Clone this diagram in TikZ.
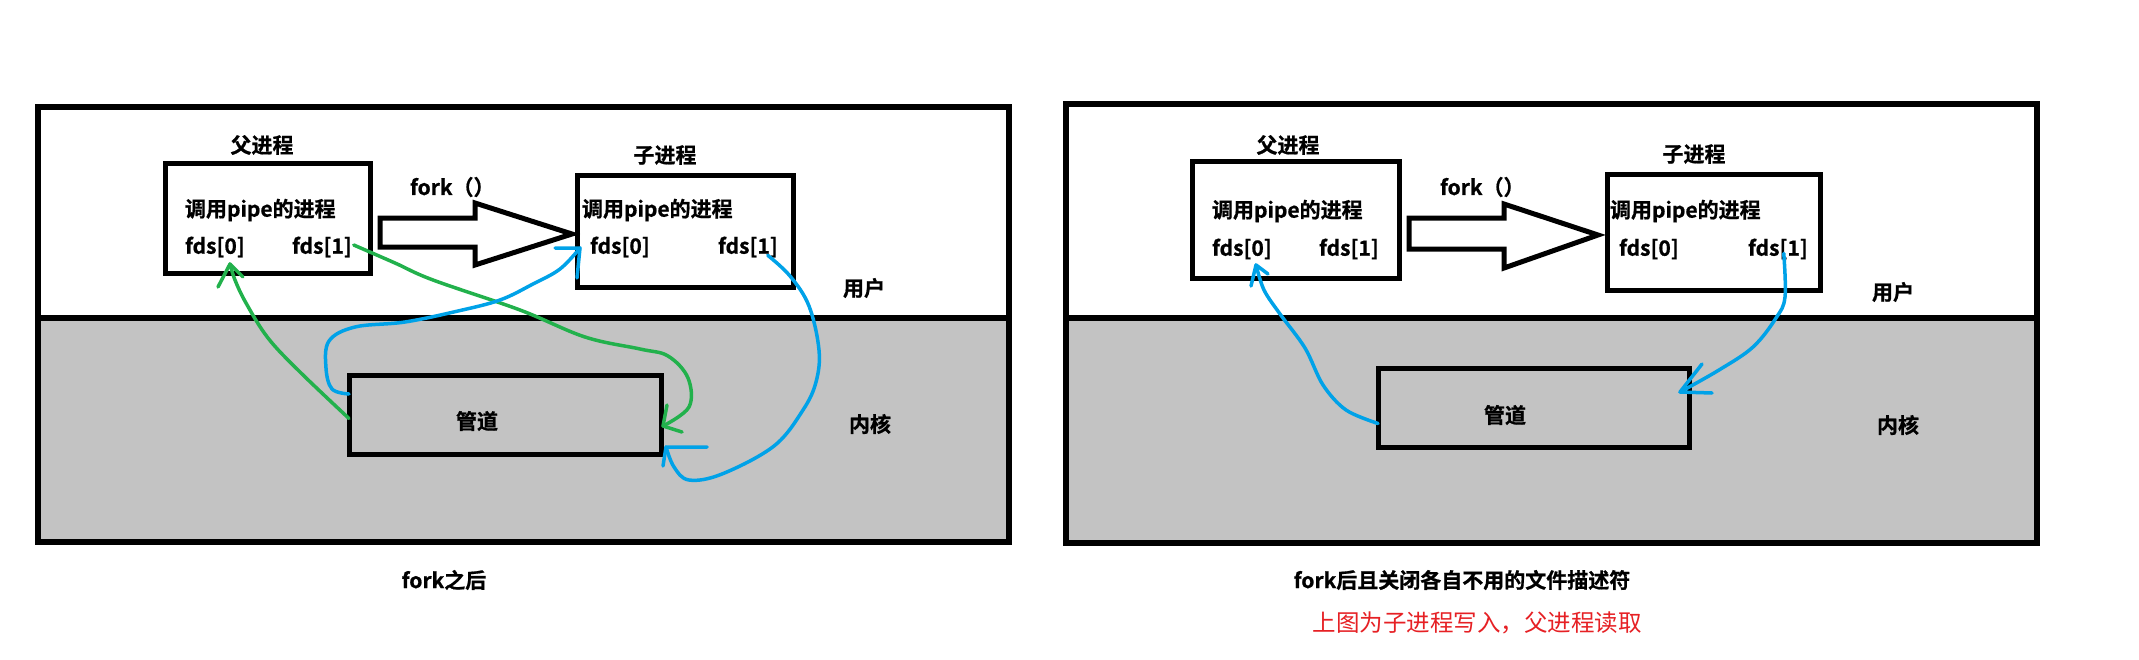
\documentclass[tikz,border=0pt]{standalone}
\usepackage{fontspec}
\setmainfont{Noto Sans CJK SC}[BoldFont={Noto Sans CJK SC Bold}, BoldFeatures={FakeBold=0.8}]
\usetikzlibrary{calc}
\definecolor{pgreen}{RGB}{34,177,76}
\definecolor{pblue}{RGB}{0,162,232}
\definecolor{kgray}{RGB}{195,195,195}
\definecolor{capred}{RGB}{230,32,36}
\begin{document}
\begin{tikzpicture}[x=1pt,y=-1pt,
  proc/.style={draw=black, line width=5pt, fill=white, inner sep=0pt, outer sep=0pt},
  pipebox/.style={draw=black, line width=5pt, inner sep=0pt, outer sep=0pt},
  txt/.style={font=\fontsize{21}{25}\selectfont\bfseries, inner sep=0pt, outer sep=0pt},
  captxt/.style={font=\fontsize{21}{25}\selectfont\bfseries, inner sep=0pt},
  redtxt/.style={font=\fontsize{23.5}{28}\selectfont, text=capred, inner sep=0pt},
  panelline/.style={line width=6pt, draw=black},
  forkarrow/.style={draw=black, line width=5pt, fill=white, line join=miter},
  hand/.style={line width=3.5pt, line cap=round, line join=round},
]
% background / bounding box
\fill[white] (0,0) rectangle (2139,659);
\useasboundingbox (0,0) rectangle (2139,659);

% ================= LEFT PANEL =================
\fill[kgray] (38,318) rectangle (1009,542);
\draw[panelline] (38,107) rectangle (1009,542);
\draw[panelline] (38,318) -- (1009,318);

\node[proc, minimum width=205pt, minimum height=110pt] (parL) at (267.5,218) {};
\node[proc, minimum width=216pt, minimum height=112pt] (chiL) at (685,231) {};
\node[pipebox, minimum width=312pt, minimum height=79pt] (pipeL) at (505,414.5) {};

\node[txt] (parLtitle) at (262,145) {父进程};
\node[txt] (chiLtitle) at (665,155) {子进程};
\node[txt, anchor=west] (parLcall) at (185,210) {调用pipe的进程};
\node[txt, anchor=west] (fdsP0) at (185,247) {fds[0]};
\node[txt, anchor=west] (fdsP1) at (292,247) {fds[1]};
\node[txt, anchor=west] (chiLcall) at (582,210) {调用pipe的进程};
\node[txt, anchor=west] (fdsC0) at (590,247) {fds[0]};
\node[txt, anchor=west] (fdsC1) at (718,247) {fds[1]};
\node[txt, anchor=west] (forkL) at (410,187) {fork（）};
\node[txt] (userL) at (864,288) {用户};
\node[txt] (kernL) at (870,424) {内核};
\node[txt] (pipeLtxt) at (477,421) {管道};

\draw[forkarrow] (380,218) -- (475,218) -- (475,203) -- (572,234) -- (475,265) -- (475,247) -- (380,247) -- cycle;

\node[captxt] (capL) at (444,580) {fork之后};

% hand-drawn connectors (left)
\coordinate (g1s) at ($(pipeL.west)+(0,4)$);
\coordinate (gT1) at (230,264);
\coordinate (g2s) at ($(fdsP1.east)+(2,-2)$);
\coordinate (gT2) at (663,426);
\coordinate (b1s) at ($(pipeL.north west)+(0,19)$);
\coordinate (bT1) at (580,248);
\coordinate (b2s) at ($(fdsC1.south east)+(-10,-2)$);
\coordinate (bT2) at (666,447);

\draw[hand, pgreen] plot[smooth, tension=0.6] coordinates {(g1s) (300,372) (268,338) (246,303) (235,280) (gT1)};
\draw[hand, pgreen] ($(gT1)+(-12,23)$) -- (gT1) -- ($(gT1)+(13,13)$);

\draw[hand, pgreen] plot[smooth, tension=0.6] coordinates {(g2s) (395,263) (433,280) (520,310) (585,337) (640,349) (668,356) (688,378) (689,407) (gT2)};
\draw[hand, pgreen] ($(gT2)+(4,-21)$) -- (gT2) -- ($(gT2)+(19,6)$);

\draw[hand, pblue] plot[smooth, tension=0.6] coordinates {(b1s) (332,389) (326,368) (329,341) (355,327) (405,322) (458,311) (500,300) (533,284) (560,269) (bT1)};
\draw[hand, pblue] ($(bT1)+(-25,0)$) -- (bT1) -- ($(bT1)+(-3,30)$);

\draw[hand, pblue] plot[smooth, tension=0.6] coordinates {(b2s) (790,276) (809,306) (819,350) (816,382) (803,410) (774,446) (722,474) (689,480) (674,467) (bT2)};
\draw[hand, pblue] ($(bT2)+(41,0)$) -- (bT2) -- ($(bT2)+(-3,19)$);

% ================= RIGHT PANEL =================
\fill[kgray] (1066,318) rectangle (2037,543);
\draw[panelline] (1066,104) rectangle (2037,543);
\draw[panelline] (1066,318) -- (2037,318);

\node[proc, minimum width=207pt, minimum height=117pt] (parR) at (1295.5,219.5) {};
\node[proc, minimum width=213pt, minimum height=116pt] (chiR) at (1713.5,232) {};
\node[pipebox, minimum width=311pt, minimum height=79pt] (pipeR) at (1533.5,407.5) {};

\node[txt] (parRtitle) at (1288,145) {父进程};
\node[txt] (chiRtitle) at (1694,154) {子进程};
\node[txt, anchor=west] (parRcall) at (1212,211) {调用pipe的进程};
\node[txt, anchor=west] (fdsRP0) at (1212,249) {fds[0]};
\node[txt, anchor=west] (fdsRP1) at (1319,249) {fds[1]};
\node[txt, anchor=west] (chiRcall) at (1610,211) {调用pipe的进程};
\node[txt, anchor=west] (fdsRC0) at (1619,249) {fds[0]};
\node[txt, anchor=west] (fdsRC1) at (1748,249) {fds[1]};
\node[txt, anchor=west] (forkR) at (1440,187) {fork（）};
\node[txt] (userR) at (1893,292) {用户};
\node[txt] (kernR) at (1898,425) {内核};
\node[txt] (pipeRtxt) at (1505,415) {管道};

\draw[forkarrow] (1409,218) -- (1504,218) -- (1504,204) -- (1598,235) -- (1504,268) -- (1504,249) -- (1409,249) -- cycle;

\node[captxt] (capR) at (1462,580) {fork后且关闭各自不用的文件描述符};
\node[redtxt] (capRed) at (1477,623) {上图为子进程写入，父进程读取};

% hand-drawn connectors (right)
\coordinate (b3s) at ($(pipeR.west)+(0,16)$);
\coordinate (bT3) at (1256,265);
\coordinate (b4s) at ($(fdsRC1.south east)+(-24,-6)$);
\coordinate (bT4) at (1680,392);

\draw[hand, pblue] plot[smooth, tension=0.55] coordinates {(b3s) (1346,410) (1323,385) (1305,348) (1280,314) (1264,290) (bT3)};
\draw[hand, pblue] ($(bT3)+(-5,21)$) -- (bT3) -- ($(bT3)+(12,9)$);

\draw[hand, pblue] plot[smooth, tension=0.6] coordinates {(b4s) (1785,297) (1776,318) (1753,347) (1719,370) (bT4)};
\draw[hand, pblue] ($(bT4)+(22,-28)$) -- (bT4) -- ($(bT4)+(32,1)$);
\end{tikzpicture}
\end{document}
